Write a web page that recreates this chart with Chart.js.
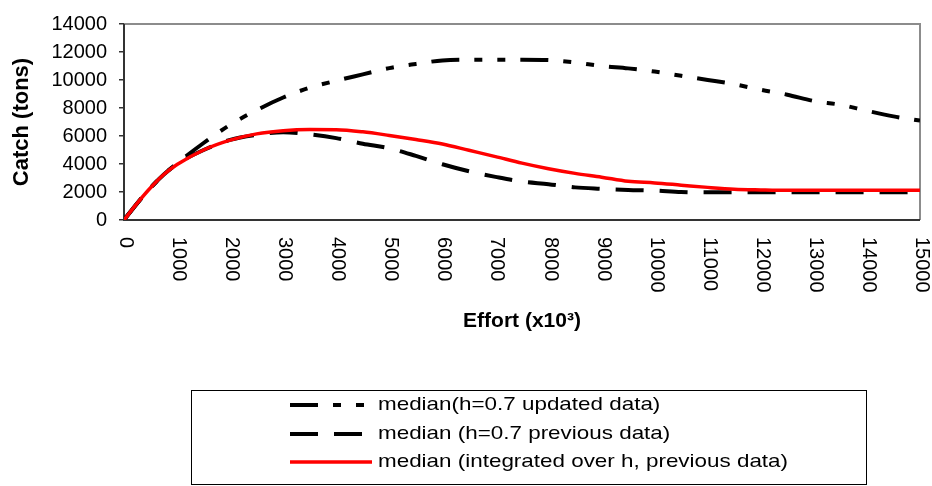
<!DOCTYPE html>
<html>
<head>
<meta charset="utf-8">
<title>Catch vs effort</title>
<script src="https://cdn.jsdelivr.net/npm/chart.js@4.4.1/dist/chart.umd.min.js"></script>
<style>
  html, body { margin: 0; padding: 0; background: #ffffff; }
  canvas { display: block; }
</style>
</head>
<body>
<canvas id="catchChart" width="932" height="486"></canvas>
<script>
// Effort levels (x10^3) at which the median catch was evaluated
const effort = [0, 250, 500, 750, 1000, 1500, 2000, 2500, 3000, 3500, 4000, 4500, 5000, 5500,
  6000, 6500, 7000, 7500, 8000, 8500, 9000, 9500, 10000, 10500, 11000, 11500, 12000, 12500,
  13000, 13500, 14000, 14500, 15000];

// Median catch (tons), h = 0.7, updated data
const updatedData = [0, 1200, 2300, 3250, 4050, 5500, 6800, 7850, 8750, 9450, 9950, 10400, 10850, 11150,
  11400, 11450, 11450, 11450, 11420, 11250, 11000, 10830, 10600, 10300, 10000, 9700, 9300, 8950,
  8500, 8230, 7800, 7400, 7100];

// Median catch (tons), h = 0.7, previous data
const previousData = [0, 1200, 2300, 3250, 4000, 5000, 5720, 6080, 6270, 6120, 5850, 5450, 5120, 4580,
  3980, 3480, 3080, 2740, 2560, 2330, 2230, 2150, 2100, 2000, 1980, 1980, 1980, 1980,
  1980, 1980, 1980, 1980, 1980];

// Median catch (tons), integrated over h, previous data
const integratedData = [0, 1200, 2300, 3250, 3960, 5000, 5700, 6150, 6380, 6460, 6450, 6300, 6040, 5750,
  5430, 4980, 4530, 4060, 3660, 3330, 3060, 2760, 2650, 2490, 2330, 2200, 2150, 2120,
  2120, 2120, 2120, 2120, 2120];

const seriesLabels = [
  'median(h=0.7 updated data)',
  'median (h=0.7 previous data)',
  'median (integrated over h, previous data)'
];

const xTicks = [0, 1000, 2000, 3000, 4000, 5000, 6000, 7000, 8000, 9000, 10000, 11000, 12000, 13000, 14000, 15000];
const yTicks = [0, 2000, 4000, 6000, 8000, 10000, 12000, 14000];

const FONT = "'Liberation Sans', Arial, Helvetica, sans-serif";
Chart.defaults.font.family = FONT;
Chart.defaults.color = '#000000';

const toPoints = ys => effort.map((x, i) => ({ x: x, y: ys[i] }));

const lineCommon = {
  pointRadius: 0,
  pointHoverRadius: 0,
  fill: false,
  cubicInterpolationMode: 'monotone'
};

// Plot frame: grey box with dark left and bottom axis lines
const plotFrame = {
  id: 'plotFrame',
  beforeDatasetsDraw(chart) {
    const { ctx, chartArea: { left, top, right, bottom } } = chart;
    ctx.save();
    ctx.lineWidth = 2;
    ctx.strokeStyle = '#8c8c8c';
    ctx.beginPath();
    ctx.moveTo(left, top);
    ctx.lineTo(right, top);
    ctx.lineTo(right, bottom);
    ctx.stroke();
    ctx.strokeStyle = '#333333';
    ctx.beginPath();
    ctx.moveTo(left, top);
    ctx.lineTo(left, bottom);
    ctx.lineTo(right, bottom);
    ctx.stroke();
    ctx.restore();
  }
};

// Effort tick labels, turned to read downward from the axis
const verticalTickLabels = {
  id: 'verticalTickLabels',
  afterDraw(chart, args, opts) {
    const scale = chart.scales.x;
    const ctx = chart.ctx;
    ctx.save();
    ctx.font = opts.fontSize + 'px ' + FONT;
    ctx.fillStyle = '#000000';
    ctx.textAlign = 'left';
    ctx.textBaseline = 'middle';
    scale.ticks.forEach(t => {
      const px = scale.getPixelForValue(t.value);
      ctx.save();
      ctx.translate(px + opts.shift, chart.chartArea.bottom + opts.gap);
      ctx.rotate(Math.PI / 2);
      ctx.fillText(String(t.value), 0, 0);
      ctx.restore();
    });
    ctx.restore();
  }
};

// Boxed legend stacked in rows under the axis title
const boxLegend = {
  id: 'boxLegend',
  afterDraw(chart, args, opts) {
    const ctx = chart.ctx;
    ctx.save();
    ctx.lineWidth = 1;
    ctx.strokeStyle = '#000000';
    ctx.strokeRect(opts.left, opts.top, opts.width, opts.height);
    chart.data.datasets.forEach((ds, i) => {
      const y = opts.rows[i];
      ctx.save();
      ctx.strokeStyle = ds.borderColor;
      ctx.lineWidth = ds.borderWidth;
      ctx.setLineDash(ds.borderDash || []);
      ctx.beginPath();
      ctx.moveTo(opts.sampleFrom, y);
      ctx.lineTo(opts.sampleTo, y);
      ctx.stroke();
      ctx.restore();

      ctx.save();
      ctx.translate(opts.textX, y);
      ctx.scale(opts.stretch, 1);
      ctx.font = opts.fontSize + 'px ' + FONT;
      ctx.fillStyle = '#000000';
      ctx.textAlign = 'left';
      ctx.textBaseline = 'middle';
      ctx.fillText(ds.label, 0, 0);
      ctx.restore();
    });
    ctx.restore();
  }
};

new Chart(document.getElementById('catchChart'), {
  type: 'line',
  data: {
    datasets: [
      Object.assign({
        label: seriesLabels[0],
        data: toPoints(updatedData),
        borderColor: '#000000',
        borderWidth: 4,
        borderDash: [28, 15, 8, 15, 8, 15],
        order: 2
      }, lineCommon),
      Object.assign({
        label: seriesLabels[1],
        data: toPoints(previousData),
        borderColor: '#000000',
        borderWidth: 4,
        borderDash: [28, 16],
        order: 1
      }, lineCommon),
      Object.assign({
        label: seriesLabels[2],
        data: toPoints(integratedData),
        borderColor: '#ff0000',
        borderWidth: 3.5,
        order: 0
      }, lineCommon)
    ]
  },
  options: {
    responsive: false,
    animation: false,
    devicePixelRatio: 1,
    layout: { padding: { top: 15, right: 12, bottom: 152, left: 0 } },
    plugins: {
      legend: { display: false },
      tooltip: { enabled: false },
      verticalTickLabels: { fontSize: 20, shift: 1.5, gap: 17 },
      boxLegend: {
        left: 191.5, top: 390.5, width: 675, height: 94,
        rows: [405, 434, 462],
        sampleFrom: 290, sampleTo: 372,
        textX: 378, fontSize: 19, stretch: 1.18
      }
    },
    scales: {
      x: {
        type: 'linear',
        min: 0,
        max: 15000,
        afterBuildTicks: s => { s.ticks = xTicks.map(v => ({ value: v })); },
        ticks: { display: false },
        grid: { display: false },
        border: { display: false },
        title: {
          display: true,
          text: 'Effort (x10³)',
          font: { size: 21, weight: 'bold' },
          padding: { top: 0, bottom: 0 }
        },
        afterFit: s => { s.height = 114; }
      },
      y: {
        type: 'linear',
        min: 0,
        max: 14000,
        afterBuildTicks: s => { s.ticks = yTicks.map(v => ({ value: v })); },
        ticks: {
          font: { size: 20 },
          padding: 12,
          color: '#000000',
          callback: v => String(v)
        },
        grid: {
          drawOnChartArea: false,
          drawTicks: true,
          tickLength: 5,
          color: '#333333',
          lineWidth: 1.5
        },
        border: { display: false },
        title: {
          display: true,
          text: 'Catch (tons)',
          font: { size: 22, weight: 'bold' },
          padding: { top: 9, bottom: 0 }
        },
        afterFit: s => { s.width = 124; }
      }
    }
  },
  plugins: [plotFrame, verticalTickLabels, boxLegend]
});
</script>
</body>
</html>
